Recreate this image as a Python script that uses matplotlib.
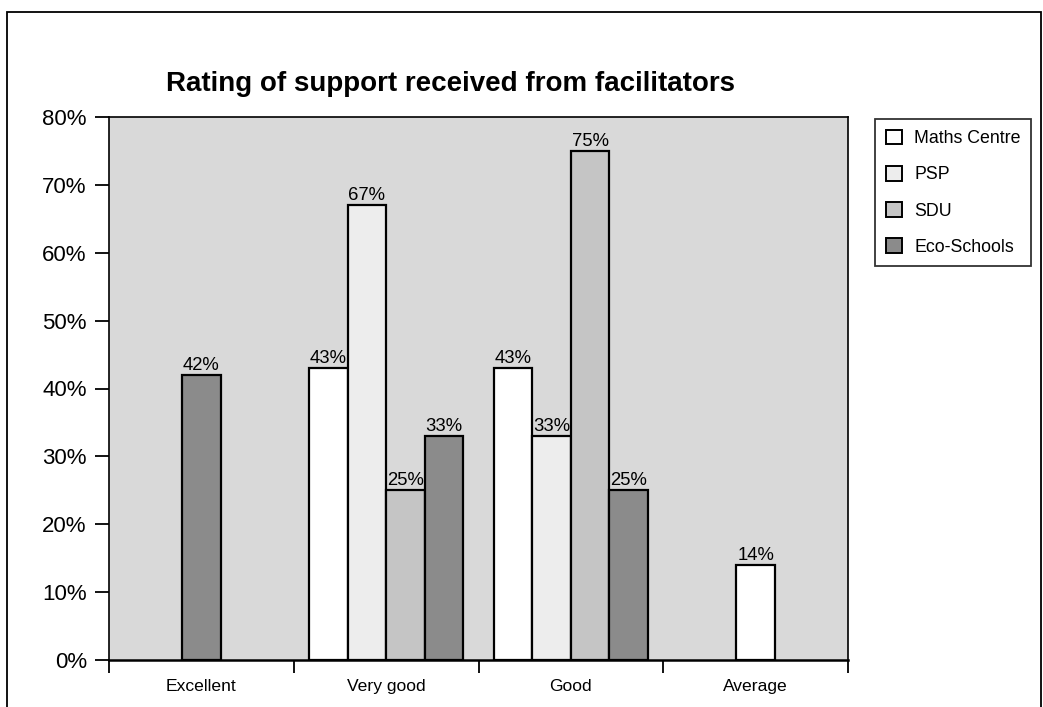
import numpy as np
import matplotlib
matplotlib.use('Agg')
import matplotlib.pyplot as plt
from matplotlib.patches import Rectangle

plt.rcParams['font.family'] = ['Liberation Sans', 'DejaVu Sans']

# Ratings (percent of respondents); None where a programme had no responses
categories = ['Excellent', 'Very good', 'Good', 'Average']
series_names = ['Maths Centre', 'PSP', 'SDU', 'Eco-Schools']
maths_centre = [None, 43, 43, 14]
psp = [None, 67, 33, None]
sdu = [None, 25, 75, None]
eco_schools = [42, 33, 25, None]
series_values = [maths_centre, psp, sdu, eco_schools]
series_colors = ['#ffffff', '#ededed', '#c5c5c5', '#8b8b8b']
y_ticks = [0, 10, 20, 30, 40, 50, 60, 70, 80]

W, H = 1043, 707
fig = plt.figure(figsize=(W / 100, H / 100), dpi=100)
fig.patch.set_facecolor('white')

# outer frame around the chart
fig.patches.append(Rectangle((7 / W, -0.05), (1041 - 7) / W, 1.05 - 12 / H,
                             transform=fig.transFigure, fill=False,
                             edgecolor='black', linewidth=1.3))

left, right, top, bottom = 109, 848, 117, 660
ax = fig.add_axes([left / W, 1 - bottom / H, (right - left) / W, (bottom - top) / H])
ax.set_facecolor('#d9d9d9')

bar_w = 0.208
for ci, cat in enumerate(categories):
    present = [si for si in range(len(series_names)) if series_values[si][ci] is not None]
    n = len(present)
    for k, si in enumerate(present):
        val = series_values[si][ci]
        x = ci + 0.5 + (k - (n - 1) / 2) * bar_w
        ax.bar(x, val, width=bar_w, color=series_colors[si], edgecolor='black',
               linewidth=1.6, zorder=3)
        ax.annotate(f'{val}%', (x, val), xytext=(0, 1), textcoords='offset points',
                    ha='center', va='bottom', fontsize=13.3, zorder=4)

ax.set_xlim(0, len(categories))
ax.set_ylim(0, 80)
ax.set_yticks(y_ticks)
ax.set_yticklabels([f'{t}%' for t in y_ticks], fontsize=16)
ax.tick_params(axis='y', length=10, width=1.3, pad=6)

ax.set_xticks(np.arange(len(categories) + 1))
ax.set_xticklabels([])
ax.tick_params(axis='x', which='major', length=9.5, width=1.3)
ax.set_xticks(np.arange(len(categories)) + 0.5, minor=True)
ax.set_xticklabels(categories, minor=True, fontsize=12.6)
ax.tick_params(axis='x', which='minor', length=0, pad=14)

for side in ['top', 'right', 'left']:
    ax.spines[side].set_linewidth(1.2)
ax.spines['bottom'].set_linewidth(1.8)

fig.text(451 / W, 1 - 84 / H, 'Rating of support received from facilitators',
         ha='center', va='center', fontsize=20, fontweight='bold')

handles = [Rectangle((0, 0), 1, 1, facecolor=c, edgecolor='black', linewidth=1.4)
           for c in series_colors]
leg = fig.legend(handles, series_names, loc='upper left',
                 bbox_to_anchor=(875 / W, 1 - 119 / H), borderaxespad=0,
                 fontsize=12.8, handlelength=0.9, handleheight=0.9,
                 handletextpad=0.7, labelspacing=1.05, borderpad=0.6,
                 fancybox=False, frameon=True)
leg.get_frame().set_edgecolor('black')
leg.get_frame().set_linewidth(1.3)

fig.savefig('out.png', dpi=100)
